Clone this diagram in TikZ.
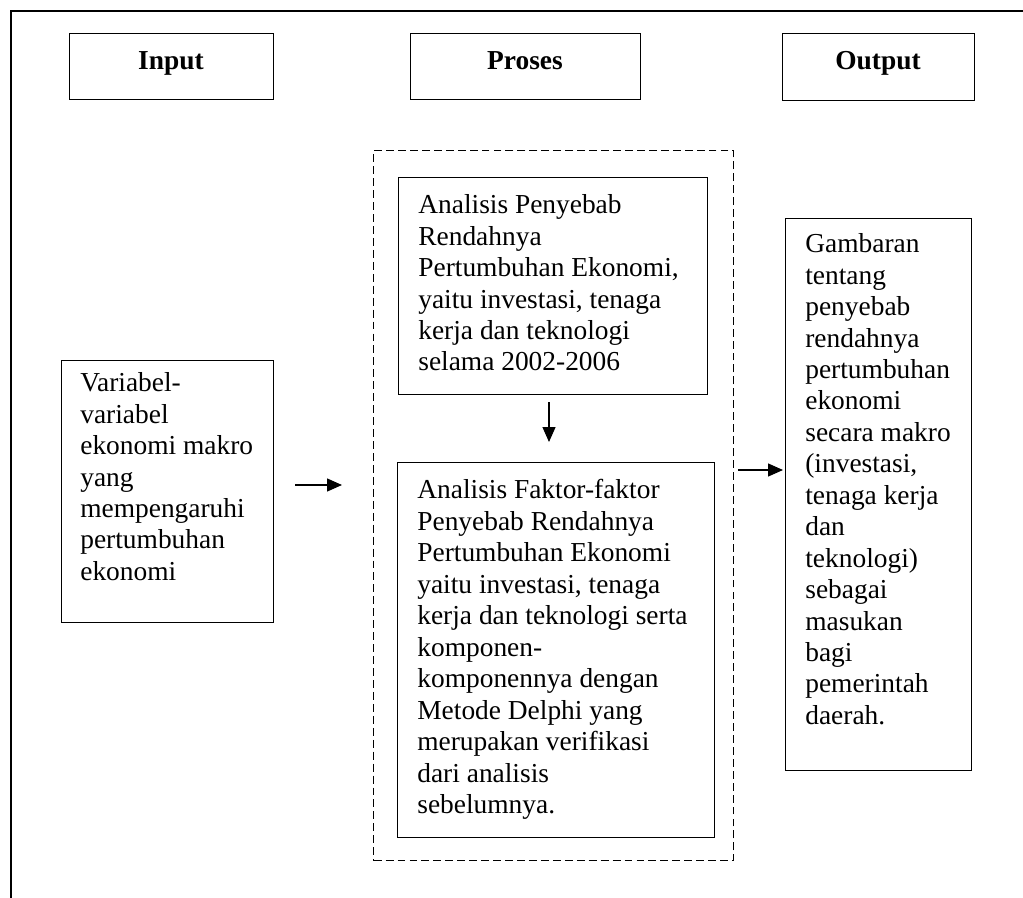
\documentclass[tikz,border=0pt]{standalone}
\usepackage{fontspec}
\setmainfont{Liberation Serif}
\usetikzlibrary{arrows.meta,positioning}

\tikzset{
  box/.style={draw,line width=0.75pt,rectangle,inner sep=0pt,anchor=north west},
  head/.style={font=\fontsize{15.6}{17.9}\selectfont\bfseries,anchor=base},
  txt/.style={font=\fontsize{15.6}{17.9}\selectfont,align=left,inner sep=0pt,anchor=north west},
  arr/.style={-{Triangle[length=0.3cm,width=0.26cm]},line width=0.75pt}
}

\begin{document}
\begin{tikzpicture}[x=0.02cm,y=-0.02cm]
\useasboundingbox (0,0) rectangle (1023,898);
% frame
\draw[line width=1.4pt] (11,898) -- (11,11) -- (1023,11);

% headers
\node[box,minimum width=204*0.02cm,minimum height=66*0.02cm] (inhead) at (69,33) {};
\node[box,minimum width=230*0.02cm,minimum height=66*0.02cm] (prhead) at (410,33) {};
\node[box,minimum width=192*0.02cm,minimum height=67*0.02cm] (outhead) at (782,33) {};
\node[head] (inlab) at (171,70) {Input};
\node[head] (prlab) at (525,70) {Proses};
\node[head] (outlab) at (878,70) {Output};

% input
\node[box,minimum width=212*0.02cm,minimum height=262*0.02cm] (inbox) at (61,360) {};
\node[txt] (intext) at (80,372.3) {Variabel-\\variabel\\ekonomi makro\\yang\\mempengaruhi\\pertumbuhan\\ekonomi};

% proses
\node[box,dashed,dash pattern=on 4.5pt off 2.3pt,minimum width=360*0.02cm,minimum height=710*0.02cm] (prbox) at (373,150) {};
\node[box,minimum width=309*0.02cm,minimum height=217*0.02cm] (anaone) at (398,177) {};
\node[txt] (anaonetext) at (418,194.3) {Analisis Penyebab\\Rendahnya\\Pertumbuhan Ekonomi,\\yaitu investasi, tenaga\\kerja dan teknologi\\selama 2002-2006};
\node[box,minimum width=317*0.02cm,minimum height=375*0.02cm] (anatwo) at (397,462) {};
\node[txt] (anatwotext) at (417,479.3) {Analisis Faktor-faktor\\Penyebab Rendahnya\\Pertumbuhan Ekonomi\\yaitu investasi, tenaga\\kerja dan teknologi serta\\komponen-\\komponennya dengan\\Metode Delphi yang\\merupakan verifikasi\\dari analisis\\sebelumnya.};

% output
\node[box,minimum width=186*0.02cm,minimum height=552*0.02cm] (outbox) at (785,218) {};
\node[txt] (outtext) at (805,233.3) {Gambaran\\tentang\\penyebab\\rendahnya\\pertumbuhan\\ekonomi\\secara makro\\(investasi,\\tenaga kerja\\dan\\teknologi)\\sebagai\\masukan\\bagi\\pemerintah\\daerah.};

% arrows
\coordinate (inarrs) at (295,485);
\coordinate (inarre) at (342,485);
\coordinate (outarrs) at (738,470);
\coordinate (outarre) at (783,470);
\coordinate (downs) at (549,402);
\coordinate (downe) at (549,442);
\draw[arr] (inarrs) -- (inarre);
\draw[arr] (outarrs) -- (outarre);
\draw[arr] (downs) -- (downe);

\end{tikzpicture}
\end{document}
